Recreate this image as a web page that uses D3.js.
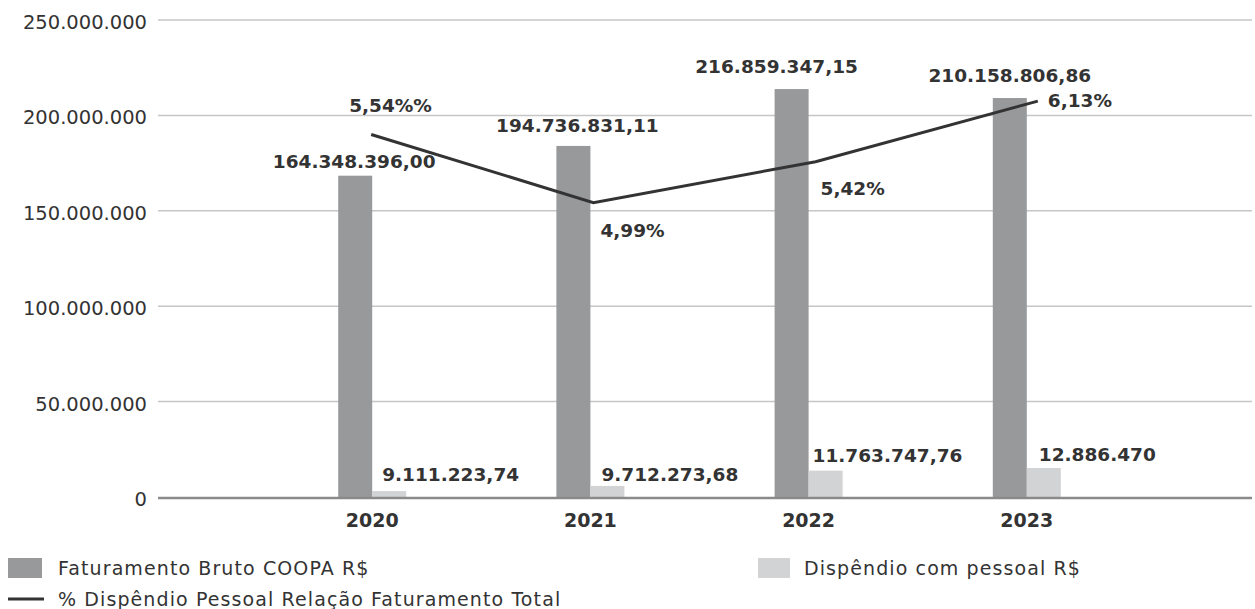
<!DOCTYPE html>
<html>
<head>
<meta charset="utf-8">
<script src="https://cdn.jsdelivr.net/npm/d3@7"></script>
<style>
  html, body { margin: 0; padding: 0; background: #ffffff; }
  svg { display: block; }
</style>
</head>
<body>
<svg id="chart" width="1255" height="609"></svg>
<script>
// ---- data ----
const years = ["2020", "2021", "2022", "2023"];
const faturamento = [168.4e6, 184.0e6, 213.8e6, 209.1e6];      // bar heights as drawn
const dispendio = [3.1e6, 5.8e6, 13.8e6, 15.2e6];               // bar heights as drawn
const faturamentoLabels = ["164.348.396,00", "194.736.831,11", "216.859.347,15", "210.158.806,86"];
const dispendioLabels = ["9.111.223,74", "9.712.273,68", "11.763.747,76", "12.886.470"];
const pctPlotted = [5.32, 4.32, 4.92, 5.81];                    // line heights as drawn (secondary axis)
const pctLabels = ["5,54%%", "4,99%", "5,42%", "6,13%"];
const yTicks = [0, 50e6, 100e6, 150e6, 200e6, 250e6];
const legendNames = ["Faturamento Bruto COOPA R$", "Dispêndio com pessoal R$", "% Dispêndio Pessoal Relação Faturamento Total"];

// ---- layout / style ----
const W = 1255, H = 609;
const plotLeft = 158, plotRight = 1252, plotTop = 20, plotBottom = 497;
const barW = 34;
const darkCol = "#98999b", lightCol = "#d2d3d5", lineCol = "#333333", textCol = "#333333";
const fontFam = "'DejaVu Sans', sans-serif";

// label offsets (placement of data labels)
const darkLabDx = [-1, 4, -15, 0], darkLabDy = [-8, -14, -16, -16];
const lightLabDx = [10, 11, 4, 12], lightLabDy = [-10, -5, -9, -7];
const pctLabDx = [-22, 7, 5, 10], pctLabDy = [-22, 34, 33, 6];

const svg = d3.select("#chart");

const x = d3.scalePoint().domain(years).range([154, 1245]).padding(1);
const xLine = d3.scalePoint().domain(years).range([149, 1260]).padding(1);
const y = d3.scaleLinear().domain([0, 250e6]).range([plotBottom, plotTop]);
const yPct = d3.scaleLinear().domain([0, 7]).range([plotBottom, plotTop]);

const fmt = v => d3.format(",")(v).replace(/,/g, ".");

// gridlines
svg.append("g").selectAll("line").data(yTicks.filter(t => t > 0)).join("line")
  .attr("x1", plotLeft).attr("x2", plotRight)
  .attr("y1", d => y(d)).attr("y2", d => y(d))
  .attr("stroke", "#c6c6c6").attr("stroke-width", 1.5);

// y axis labels
svg.append("g").selectAll("text").data(yTicks).join("text")
  .attr("x", 147).attr("y", d => y(d) + 9)
  .attr("text-anchor", "end")
  .attr("font-family", fontFam).attr("font-size", 19.5).attr("fill", textCol)
  .text(d => fmt(d));

// bars
const idx = d3.range(years.length);
svg.append("g").selectAll("rect").data(idx).join("rect")
  .attr("x", i => x(years[i]) - barW)
  .attr("y", i => y(faturamento[i]))
  .attr("width", barW)
  .attr("height", i => y(0) - y(faturamento[i]) + 1)
  .attr("fill", darkCol);
svg.append("g").selectAll("rect").data(idx).join("rect")
  .attr("x", i => x(years[i]))
  .attr("y", i => y(dispendio[i]))
  .attr("width", barW)
  .attr("height", i => y(0) - y(dispendio[i]) + 1)
  .attr("fill", lightCol);

// baseline
svg.append("line")
  .attr("x1", plotLeft).attr("x2", plotRight)
  .attr("y1", y(0) + 1).attr("y2", y(0) + 1)
  .attr("stroke", "#8a8a8a").attr("stroke-width", 2.5);

// category labels
svg.append("g").selectAll("text").data(years).join("text")
  .attr("x", d => x(d)).attr("y", 527)
  .attr("text-anchor", "middle")
  .attr("font-family", fontFam).attr("font-weight", "bold").attr("font-size", 19).attr("fill", textCol)
  .text(d => d);

// line
const line = d3.line()
  .x((d, i) => xLine(years[i]))
  .y(d => yPct(d))
  .curve(d3.curveLinear);
svg.append("path").datum(pctPlotted)
  .attr("d", line)
  .attr("fill", "none").attr("stroke", lineCol).attr("stroke-width", 3);

// data labels
const bold = sel => sel.attr("font-family", fontFam).attr("font-weight", "bold")
  .attr("font-size", 18.5).attr("fill", textCol);

svg.append("g").selectAll("text").data(idx).join("text")
  .attr("x", i => x(years[i]) - barW / 2 + darkLabDx[i])
  .attr("y", i => y(faturamento[i]) + darkLabDy[i])
  .attr("text-anchor", "middle")
  .call(bold)
  .text(i => faturamentoLabels[i]);

svg.append("g").selectAll("text").data(idx).join("text")
  .attr("x", i => x(years[i]) + lightLabDx[i])
  .attr("y", i => y(dispendio[i]) + lightLabDy[i])
  .attr("text-anchor", "start")
  .call(bold)
  .text(i => dispendioLabels[i]);

svg.append("g").selectAll("text").data(idx).join("text")
  .attr("x", i => xLine(years[i]) + pctLabDx[i])
  .attr("y", i => yPct(pctPlotted[i]) + pctLabDy[i])
  .attr("text-anchor", "start")
  .call(bold)
  .text(i => pctLabels[i]);

// legend
const legendText = sel => sel.attr("font-family", fontFam).attr("font-size", 19)
  .attr("letter-spacing", 1.1).attr("fill", textCol);
const lg = svg.append("g");
lg.append("rect").attr("x", 8).attr("y", 558).attr("width", 34).attr("height", 20).attr("fill", darkCol);
lg.append("text").attr("x", 58).attr("y", 575).call(legendText).text(legendNames[0]);
lg.append("rect").attr("x", 758).attr("y", 558).attr("width", 32).attr("height", 20).attr("fill", lightCol);
lg.append("text").attr("x", 804).attr("y", 575).call(legendText).text(legendNames[1]);
lg.append("line").attr("x1", 8).attr("x2", 44).attr("y1", 599).attr("y2", 599)
  .attr("stroke", lineCol).attr("stroke-width", 3);
lg.append("text").attr("x", 58).attr("y", 606).call(legendText).text(legendNames[2]);
</script>
</body>
</html>
